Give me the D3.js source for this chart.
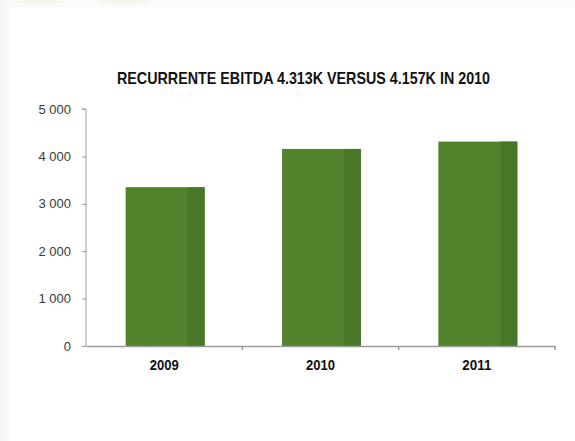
<!DOCTYPE html>
<html>
<head>
<meta charset="utf-8">
<script src="https://cdn.jsdelivr.net/npm/d3@7"></script>
<style>
  body { margin: 0; background: #fafafa; }
  #chart { width: 575px; height: 441px; }
</style>
</head>
<body>
<div id="chart"></div>
<script>
// chart data
var years = ["2009", "2010", "2011"];
var ebitda = [3350, 4157, 4313];
var yTicks = [0, 1000, 2000, 3000, 4000, 5000];
var chartTitle = "RECURRENTE EBITDA 4.313K VERSUS 4.157K IN 2010";

var w = 575, h = 441;
var margin = { top: 109, right: 20, bottom: 95, left: 86 };

var svg = d3.select("#chart")
    .append("svg")
    .attr("width", w)
    .attr("height", h);

// page background: left shadow strip + white panel
var defs = svg.append("defs");
var grad = defs.append("linearGradient").attr("id", "shade");
grad.append("stop").attr("offset", "0%").attr("stop-color", "#f3f3f3");
grad.append("stop").attr("offset", "100%").attr("stop-color", "#fbfbfb");
svg.append("rect").attr("x", 0).attr("y", 0).attr("width", 11).attr("height", h).attr("fill", "url(#shade)");
svg.append("ellipse").attr("cx", 40).attr("cy", 0).attr("rx", 25).attr("ry", 4).attr("fill", "#f4f8ec");
svg.append("ellipse").attr("cx", 125).attr("cy", 0).attr("rx", 25).attr("ry", 4).attr("fill", "#f4f8ec");
svg.append("rect").attr("x", 11).attr("y", 7).attr("width", w - 11).attr("height", h - 7).attr("fill", "#ffffff");

var xScale = d3.scaleBand()
    .domain(years)
    .range([margin.left, w - margin.right])
    .paddingInner(0.495)
    .paddingOuter(0.2475);

var yScale = d3.scaleLinear()
    .domain([0, 5000])
    .range([h - margin.bottom, margin.top]);

// bars (front face + darker side)
var sideW = 17;
var bars = svg.selectAll("g.bar")
    .data(years)
    .enter()
    .append("g")
    .attr("class", "bar");

bars.append("rect")
    .attr("x", d => xScale(d) + 1)
    .attr("y", (d, i) => yScale(ebitda[i]))
    .attr("width", xScale.bandwidth())
    .attr("height", (d, i) => yScale(0) - yScale(ebitda[i]))
    .attr("fill", "#52822c");

bars.append("rect")
    .attr("x", d => xScale(d) + 1 + xScale.bandwidth() - sideW)
    .attr("y", (d, i) => yScale(ebitda[i]))
    .attr("width", sideW)
    .attr("height", (d, i) => yScale(0) - yScale(ebitda[i]))
    .attr("fill", "#477727");

// y axis
var yAxis = d3.axisLeft(yScale)
    .tickValues(yTicks)
    .tickSize(4)
    .tickPadding(11)
    .tickFormat(d => d3.format(",")(d).replace(",", " "));

var gy = svg.append("g")
    .attr("transform", "translate(" + margin.left + ",0)")
    .call(yAxis);
gy.select(".domain").attr("stroke", "#9a9a9a").attr("d", "M-4," + yScale(5000) + "H0V" + yScale(0));
gy.selectAll(".tick line").attr("stroke", "#9a9a9a");
gy.selectAll(".tick text")
    .attr("fill", "#3a3a3a")
    .attr("font-family", "'Liberation Sans', Arial, sans-serif")
    .attr("font-size", "13px");

// x axis
var xAxis = d3.axisBottom(xScale).tickSize(0).tickPadding(13);
var gx = svg.append("g")
    .attr("transform", "translate(0," + yScale(0) + ")")
    .call(xAxis);
gx.select(".domain").attr("stroke", "#9a9a9a").attr("stroke-width", 1.5);
gx.selectAll(".tick text")
    .attr("fill", "#111")
    .attr("font-weight", "bold")
    .attr("font-family", "'Liberation Sans', Arial, sans-serif")
    .attr("font-size", "15px")
    .attr("textLength", 29)
    .attr("lengthAdjust", "spacingAndGlyphs");

// separators between categories
svg.selectAll("line.sep")
    .data(years.slice(1).concat(["end"]))
    .enter()
    .append("line")
    .attr("class", "sep")
    .attr("x1", (d, i) => i < 2 ? xScale(d) - xScale.step() * 0.495 / 2 : w - margin.right)
    .attr("x2", (d, i) => i < 2 ? xScale(d) - xScale.step() * 0.495 / 2 : w - margin.right)
    .attr("y1", yScale(0))
    .attr("y2", yScale(0) + 4)
    .attr("stroke", "#9a9a9a")
    .attr("stroke-width", 1.5);

// title
svg.append("text")
    .attr("x", 303.5)
    .attr("y", 83.5)
    .attr("text-anchor", "middle")
    .attr("font-family", "'Liberation Sans', Arial, sans-serif")
    .attr("font-weight", "bold")
    .attr("font-size", "16.5px")
    .attr("fill", "#111")
    .attr("textLength", 373)
    .attr("lengthAdjust", "spacingAndGlyphs")
    .text(chartTitle);
</script>
</body>
</html>
